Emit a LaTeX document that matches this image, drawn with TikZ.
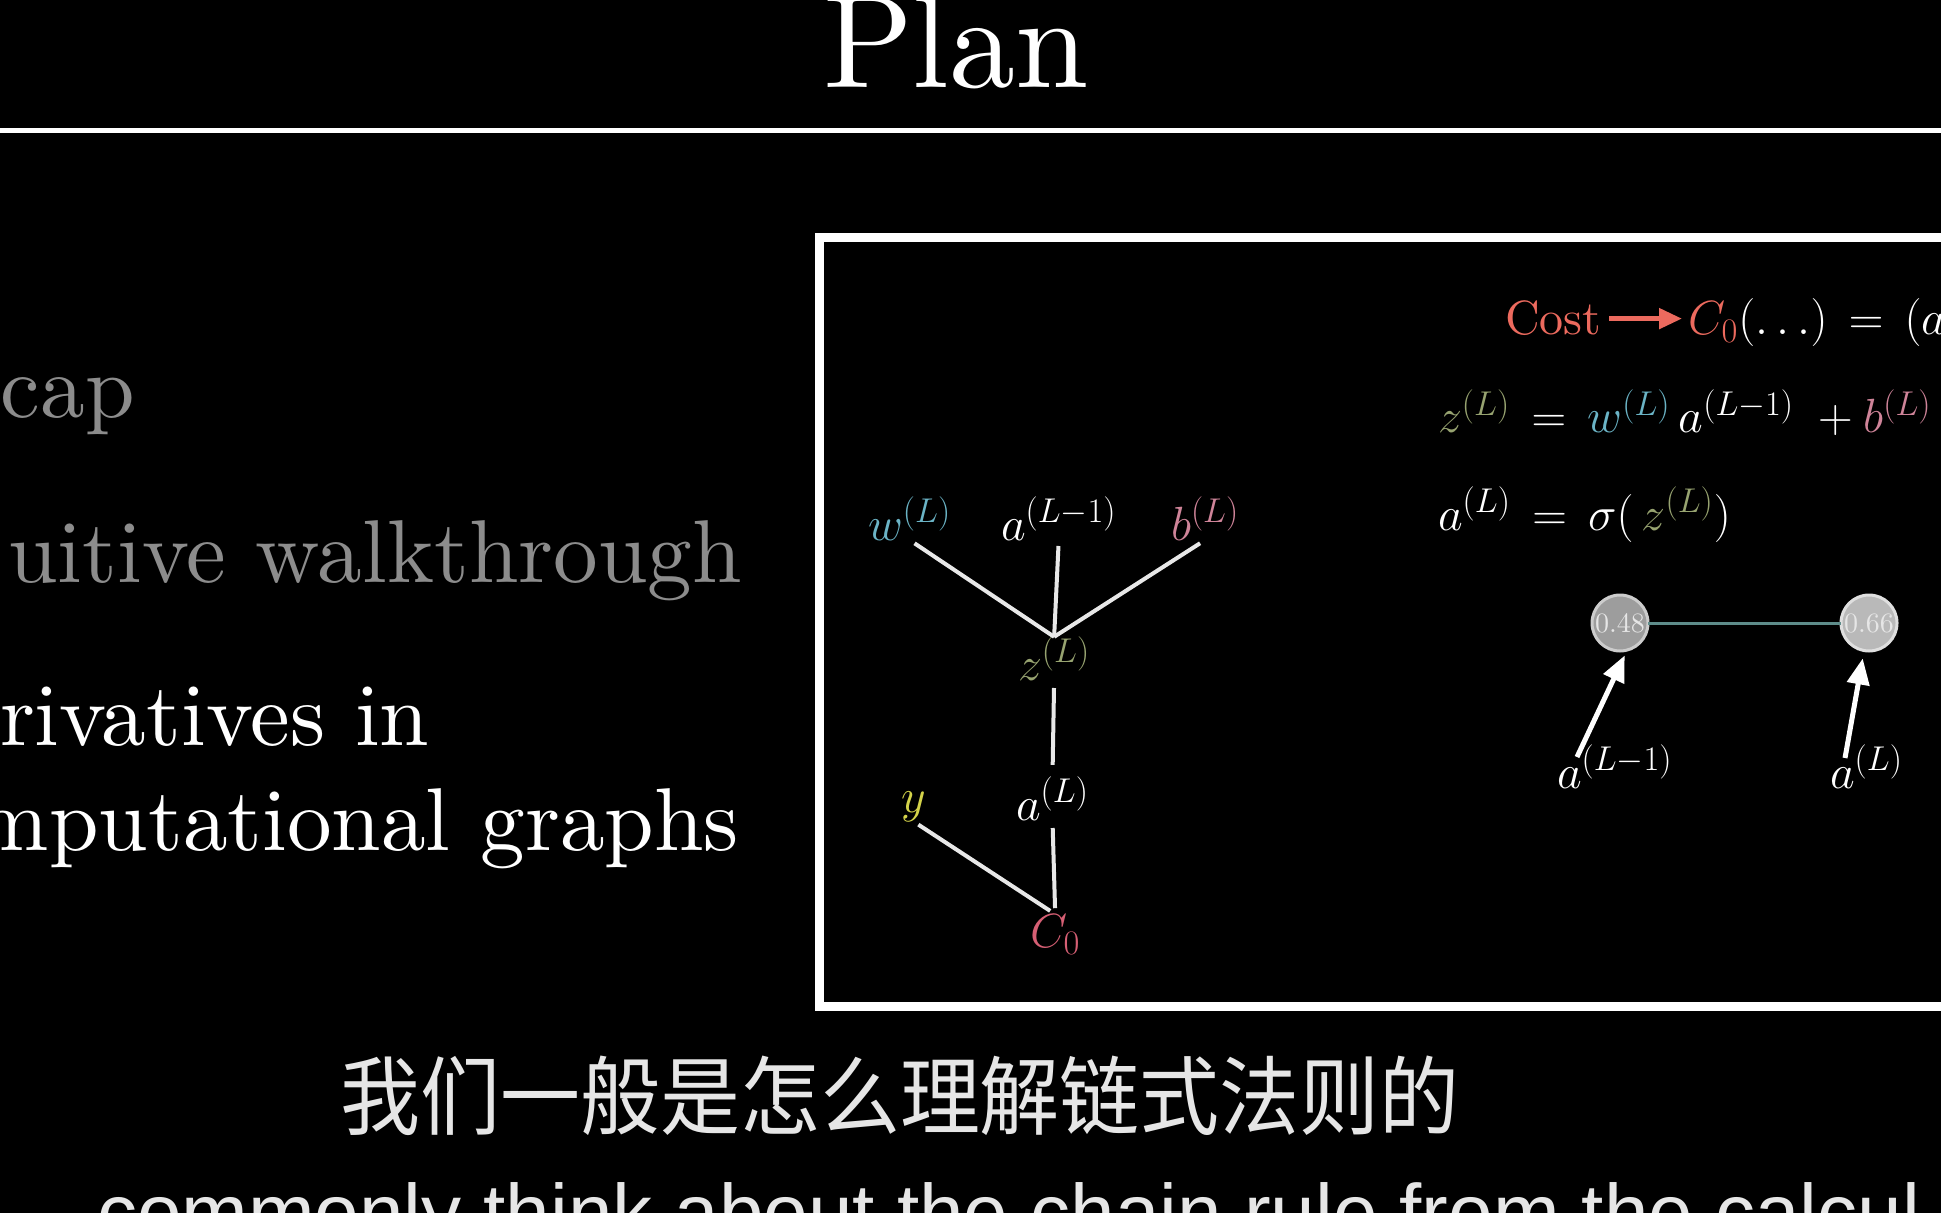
\IfFileExists{fix-cm.sty}{\RequirePackage{fix-cm}}{}
\documentclass[tikz,border=0pt]{standalone}
\usepackage{fontspec}
\setmainfont{lmroman10}[Extension=.otf, UprightFont=*-regular, ItalicFont=*-italic, BoldFont=*-bold, BoldItalicFont=*-bolditalic]
\newfontfamily\cjkfont{Noto Sans CJK SC}[FakeStretch=0.93]
\newfontfamily\subfont{Liberation Sans}
\DeclareMathSizes{24}{24}{17.2}{12}
\usetikzlibrary{arrows.meta}
\definecolor{wblue}{HTML}{6BB4C6}
\definecolor{bpink}{HTML}{CF8499}
\definecolor{zgreen}{HTML}{97A370}
\definecolor{yyellow}{HTML}{D4D34A}
\definecolor{cred}{HTML}{D65F74}
\definecolor{costred}{HTML}{EC6A5E}
\definecolor{dimgray}{HTML}{8C8C8C}
\definecolor{subwhite}{HTML}{E6E6E6}
\definecolor{linkc}{HTML}{5E8C8A}
\definecolor{edgec}{HTML}{E8E8E8}
\begin{document}
\begin{tikzpicture}[x=0.5pt,y=-0.5pt,
  every node/.style={inner sep=0pt, outer sep=0pt},
  mathlbl/.style={font=\fontsize{24}{28}\selectfont, anchor=base west},
  formula/.style={font=\fontsize{24}{28}\selectfont, anchor=base west, text=white},
  listitem/.style={font=\fontsize{44.6}{52}\selectfont},
  edge/.style={draw=edgec, line width=2pt},
  neuron/.style={circle, minimum size=28pt, line width=1.5pt, font=\fontsize{14}{16}\selectfont, text=subwhite},
  ptr/.style={draw=white, line width=2.5pt, -{Triangle[length=13pt,width=11pt]}},
]
\fill[black] (0,0) rectangle (1941,1213);
\useasboundingbox (0,0) rectangle (1941,1213);

% title
\node[font=\fontsize{66}{70}\selectfont, text=white, anchor=base] (title) at (956,88) {Plan};
\draw[white, line width=2.5pt] (-10,131) -- (1960,131);

% frame
\draw[white, line width=4.5pt] (2000,238) -- (819,238) -- (819,1006) -- (2000,1006);

% list
\node[listitem, text=dimgray, anchor=base west] (l1) at (1,418) {cap};
\node[listitem, text=dimgray, anchor=base east] (l2) at (742,582) {uitive walkthrough};
\node[listitem, text=white, anchor=base west] (l3) at (0,745) {rivatives in};
\node[listitem, text=white, anchor=base east] (l4) at (739,850) {mputational graphs};

% computational graph
\node[mathlbl, text=wblue] (wL) at (868,540) {$w^{(L)}$};
\node[mathlbl, text=white] (aL1) at (1001,540) {$a^{(L-1)}$};
\node[mathlbl, text=bpink] (bL) at (1171,540) {$b^{(L)}$};
\node[mathlbl, text=zgreen] (zL) at (1018,680) {$z^{(L)}$};
\node[mathlbl, text=white] (aL) at (1016,820) {$a^{(L)}$};
\node[mathlbl, text=yyellow] (yv) at (901,812) {$y$};
\node[mathlbl, text=cred] (C0) at (1030,947) {$C_0$};

\draw[edge, shorten <=3pt] (wL.south) -- (zL.north);
\draw[edge, shorten <=3pt] (aL1.south) -- (zL.north);
\draw[edge, shorten <=3pt] (bL.south) -- (zL.north);
\draw[edge, shorten <=4pt, shorten >=6pt] (zL.south) -- (aL.north);
\draw[edge, shorten <=4pt, shorten >=3pt] (aL.south) -- (C0.north);
\draw[edge, shorten <=3pt, shorten >=3pt] (yv.south) -- (C0.north);

% formulas
\node[formula, text=costred] (cost) at (1505,335) {Cost};
\node[formula] (c0f) at (1688,335) {$\textcolor{costred}{C_0}(\ldots)\,=\,(a$};
\draw[costred, line width=2.5pt, -{Triangle[length=11.5pt,width=10pt]}, shorten <=4pt, shorten >=3pt] (cost.east) -- (cost.east -| c0f.west);
\node[formula] (eqz) at (1438,433) {$\textcolor{zgreen}{z^{(L)}}\,=\,\textcolor{wblue}{w^{(L)}}\,a^{(L-1)}\;+\textcolor{bpink}{b^{(L)}}$};
\node[formula] (eqa) at (1438,530) {$a^{(L)}\,=\,\sigma(\,\textcolor{zgreen}{z^{(L)}})$};

% neurons
\node[neuron, fill=gray!90!black!70, draw=gray!40] (n1) at (1620,623) {0.48};
\node[neuron, fill=gray!55, draw=gray!25] (n2) at (1869,623) {0.66};
\draw[linkc, line width=1.5pt] (n1) -- (n2);

\node[mathlbl, text=white] (la1) at (1557,788) {$a^{(L-1)}$};
\node[mathlbl, text=white] (la) at (1830,788) {$a^{(L)}$};
\coordinate (t1) at (1577,757);
\coordinate (t2) at (1845,758);
\draw[ptr, shorten >=3pt] (t1) -- (n1.-75);
\draw[ptr, shorten >=4pt] (t2) -- (n2);

% subtitles
\node[font=\cjkfont\fontsize{43}{50}\selectfont, text=subwhite, anchor=base] (sub1) at (900,1128) {我们一般是怎么理解链式法则的};
\node[font=\subfont\fontsize{40}{46}\selectfont, text=subwhite, anchor=base west] (sub2) at (97,1240) {commonly think about the chain rule from the calcul};
\end{tikzpicture}
\end{document}
